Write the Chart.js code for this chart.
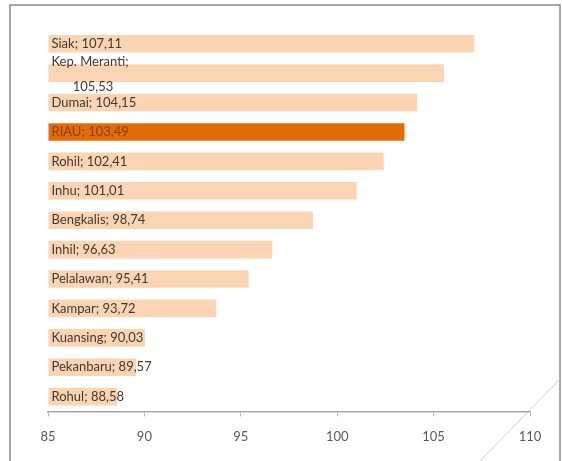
<!DOCTYPE html>
<html>
<head>
<meta charset="utf-8">
<title>Indeks per kabupaten/kota</title>
<script src="https://cdn.jsdelivr.net/npm/chart.js@4/dist/chart.umd.min.js"></script>
<style>
  html, body { margin: 0; padding: 0; background: #ffffff; }
  #wrap { position: relative; width: 562px; height: 461px; }
</style>
</head>
<body>
<div id="wrap"><canvas id="indexChart" width="562" height="461"></canvas></div>
<script>
// Regions, top to bottom
var regions = ["Siak", "Kep. Meranti", "Dumai", "RIAU", "Rohil", "Inhu", "Bengkalis",
               "Inhil", "Pelalawan", "Kampar", "Kuansing", "Pekanbaru", "Rohul"];
var indexValues = [107.11, 105.53, 104.15, 103.49, 102.41, 101.01, 98.74,
                   96.63, 95.41, 93.72, 90.03, 89.57, 88.58];
var xTicks = [85, 90, 95, 100, 105, 110];

var province = "RIAU";
var lightBar = "#fbd4b4";
var darkBar = "#e36c09";
var fontFamily = "Lato, 'DejaVu Sans Condensed', sans-serif";

function formatValue(v) {
  return v.toFixed(2).replace(".", ",");
}

// Frame around the chart plus the folded-corner stroke
var framePlugin = {
  id: "frame",
  beforeDraw: function(chart) {
    var ctx = chart.ctx;
    ctx.save();
    ctx.strokeStyle = "#8c8c8c";
    ctx.lineWidth = 1.5;
    ctx.beginPath();
    ctx.moveTo(10, chart.height);
    ctx.lineTo(10, 5);
    ctx.lineTo(560, 5);
    ctx.lineTo(560, chart.height);
    ctx.stroke();
    ctx.strokeStyle = "#cfcfcf";
    ctx.lineWidth = 1;
    ctx.beginPath();
    ctx.moveTo(480, chart.height);
    ctx.lineTo(560, 379);
    ctx.stroke();
    ctx.restore();
  }
};

// "Name; value" labels inside the base of each bar
var barLabelPlugin = {
  id: "barLabels",
  afterDatasetsDraw: function(chart) {
    var ctx = chart.ctx;
    var meta = chart.getDatasetMeta(0);
    ctx.save();
    ctx.font = "13px " + fontFamily;
    ctx.textBaseline = "middle";
    meta.data.forEach(function(bar, i) {
      var name = regions[i];
      var text = name + "; " + formatValue(indexValues[i]);
      ctx.fillStyle = name === province ? "#8a3c06" : "#45392f";
      var x = bar.base + 3;
      if (name === "Kep. Meranti") {
        // this one wraps onto two centred lines
        var line1 = name + ";";
        var line2 = formatValue(indexValues[i]);
        var cx = x + ctx.measureText(line1).width / 2;
        ctx.textAlign = "center";
        ctx.fillText(line1, cx, bar.y - 11);
        ctx.fillText(line2, cx + 3, bar.y + 14);
      } else {
        ctx.textAlign = "left";
        ctx.fillText(text, x, bar.y);
      }
    });
    ctx.restore();
  }
};

var ctx = document.getElementById("indexChart").getContext("2d");
var indexChart = new Chart(ctx, {
  type: "bar",
  data: {
    labels: regions,
    datasets: [{
      data: indexValues,
      backgroundColor: regions.map(function(r) { return r === province ? darkBar : lightBar; }),
      borderWidth: 0,
      barPercentage: 0.6,
      categoryPercentage: 1.0,
      base: 85
    }]
  },
  options: {
    indexAxis: "y",
    responsive: false,
    animation: false,
    layout: { padding: { left: 48, right: 32, top: 29, bottom: 3 } },
    plugins: {
      legend: { display: false },
      tooltip: { enabled: false }
    },
    scales: {
      x: {
        min: 85,
        max: 110,
        afterBuildTicks: function(axis) {
          axis.ticks = xTicks.map(function(v) { return { value: v }; });
        },
        grid: {
          display: true,
          drawOnChartArea: false,
          drawTicks: true,
          tickLength: 5,
          color: "#b5b5b5"
        },
        border: { display: true, color: "#a6a6a6", width: 1.5 },
        ticks: {
          color: "#595959",
          padding: 13,
          font: { family: fontFamily, size: 13 }
        }
      },
      y: {
        display: false
      }
    }
  },
  plugins: [framePlugin, barLabelPlugin]
});
</script>
</body>
</html>
